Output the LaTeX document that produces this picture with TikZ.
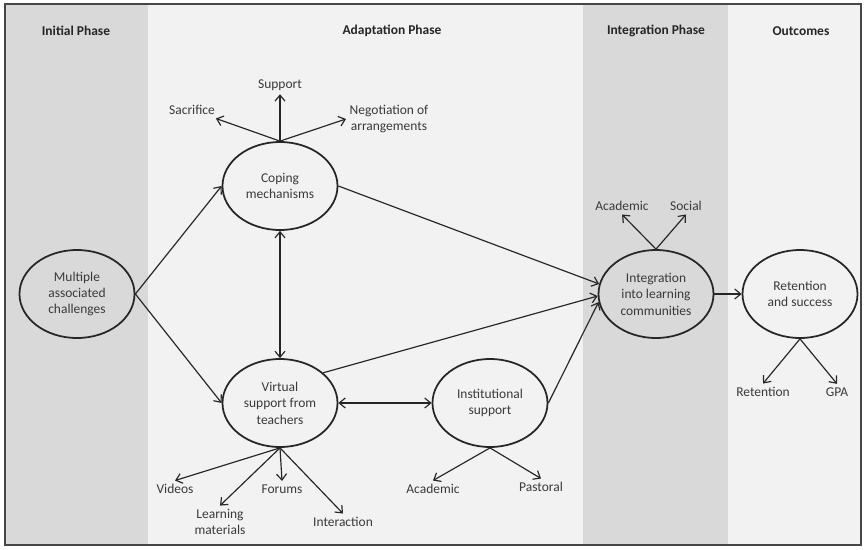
\documentclass[tikz,border=0pt]{standalone}
\usepackage{fontspec}
\setmainfont{Carlito}
\usepackage{tikz}
\usetikzlibrary{positioning, arrows.meta, shapes.geometric}

\definecolor{phasedark}{HTML}{D9D9D9}
\definecolor{phaselight}{HTML}{F2F2F2}
\definecolor{inkgray}{HTML}{262626}
\definecolor{textgray}{HTML}{3A3A3A}

\begin{document}
\begin{tikzpicture}[x=0.03cm, y=-0.03cm,
    stage/.style={ellipse, draw=inkgray, line width=1.5pt, minimum width=3.45cm,
                  minimum height=2.64cm, inner sep=0pt, align=center,
                  font=\fontsize{11.5}{14}\selectfont, text=textgray},
    leaf/.style={align=center, inner sep=3pt, font=\fontsize{11.5}{13.6}\selectfont, text=textgray},
    phase/.style={font=\bfseries\fontsize{11.5}{13.6}\selectfont, text=inkgray},
    arrow/.style={-{Straight Barb[length=1.8mm, width=3mm]}, line width=1pt, draw=inkgray},
    twoway/.style={{Straight Barb[length=1.8mm, width=3mm]}-{Straight Barb[length=1.8mm, width=3mm]},
                   line width=1pt, draw=inkgray}
]
    \useasboundingbox[fill=white] (0,0) rectangle (865,549);

    % Phase columns
    \fill[phasedark]  (5,4)   rectangle (148,545);
    \fill[phaselight] (148,4) rectangle (583,545);
    \fill[phasedark]  (583,4) rectangle (728,545);
    \fill[phaselight] (728,4) rectangle (861,545);
    \draw[inkgray!85, line width=1.6pt] (5,4) rectangle (861,545);

    \node[phase] (hinit)  at (76,31)  {Initial Phase};
    \node[phase] (hadapt) at (392,31) {Adaptation Phase};
    \node[phase] (hinteg) at (656,31) {Integration Phase};
    \node[phase] (hout)   at (801,31) {Outcomes};

    % Stages
    \node[stage, fill=phasedark]  (mult)  at (77,294)  {Multiple\\associated\\challenges};
    \node[stage, fill=phaselight] (cope)  at (280,186) {Coping\\mechanisms};
    \node[stage, fill=phaselight] (virt)  at (280,403) {Virtual\\support from\\teachers};
    \node[stage, fill=phaselight] (inst)  at (490,403) {Institutional\\support};
    \node[stage, fill=phasedark]  (integ) at (656,294) {Integration\\into learning\\communities};
    \node[stage, fill=phaselight] (ret)   at (800,294) {Retention\\and success};

    % Sub-items
    \node[leaf] (sacr)     at (192,110) {Sacrifice};
    \node[leaf] (supp)     at (280,85)  {Support};
    \node[leaf] (nego)     at (389,119) {Negotiation of\\arrangements};
    \node[leaf] (iacad)    at (622,206) {Academic};
    \node[leaf] (isoc)     at (686,206) {Social};
    \node[leaf] (rete)     at (763,392) {Retention};
    \node[leaf] (gpa)      at (837,392) {GPA};
    \node[leaf] (vids)     at (175,489) {Videos};
    \node[leaf] (lmat)     at (220,522) {Learning\\materials};
    \node[leaf] (forum)    at (282,489) {Forums};
    \node[leaf] (interact) at (343,522) {Interaction};
    \node[leaf] (instacad) at (433,489) {Academic};
    \node[leaf] (past)     at (541,487) {Pastoral};

    % Main flow
    \draw[arrow]  (mult.east) -- (cope.west);
    \draw[arrow]  (mult.east) -- (virt.west);
    \draw[twoway] (cope.south) -- (virt.north);
    \draw[twoway] (virt.east) -- (inst.west);
    \draw[arrow]  (cope.east) -- (integ.170);
    \draw[arrow]  (virt.35) -- (integ.182);
    \draw[arrow]  (inst.east) -- (integ.188);
    \draw[arrow]  (integ.east) -- (ret.west);

    % Branches
    \draw[arrow] (cope.north) -- (sacr);
    \draw[arrow] (cope.north) -- (supp);
    \draw[arrow] (cope.north) -- (nego.west);
    \draw[arrow] (integ.north) -- (iacad.south);
    \draw[arrow] (integ.north) -- (isoc.south);
    \draw[arrow] (ret.south) -- (rete.north);
    \draw[arrow] (ret.south) -- (gpa.north);
    \draw[arrow] (virt.south) -- (vids.north);
    \draw[arrow] (virt.south) -- (lmat.north);
    \draw[arrow] (virt.south) -- (forum.north);
    \draw[arrow] (virt.south) -- (interact.north);
    \draw[arrow] (inst.south) -- (instacad.north);
    \draw[arrow] (inst.south) -- (past.north);
\end{tikzpicture}
\end{document}
